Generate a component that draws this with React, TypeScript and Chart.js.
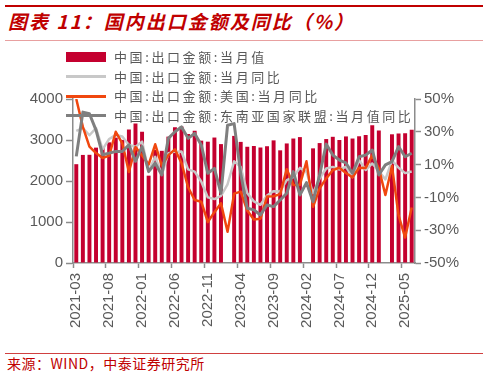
import React, { useEffect, useRef } from 'react';
import { Chart, registerables } from 'chart.js';
Chart.register(...registerables);

const months = [
  '2021-03','2021-04','2021-05','2021-06','2021-07','2021-08','2021-09','2021-10','2021-11','2021-12',
  '2022-01','2022-02','2022-03','2022-04','2022-05','2022-06','2022-07','2022-08','2022-09','2022-10','2022-11','2022-12',
  '2023-01','2023-02','2023-03','2023-04','2023-05','2023-06','2023-07','2023-08','2023-09','2023-10','2023-11','2023-12',
  '2024-01','2024-02','2024-03','2024-04','2024-05','2024-06','2024-07','2024-08','2024-09','2024-10','2024-11','2024-12',
  '2025-01','2025-02','2025-03','2025-04','2025-05','2025-06'
];

// 中国:出口金额:当月值 (亿美元)
const exportValue: (number | null)[] = [
  2410, 2636, 2639, 2814, 2826, 2943, 3057, 3002, 3254, 3404,
  3200, 2130, 2761, 2736, 3082, 3313, 3330, 3149, 3227, 2984, 2959, 3060,
  2900, null, 3100, 2954, 2835, 2853, 2817, 2848, 2991, 2748, 2916, 3036,
  3071, null, 2796, 2925, 3023, 3078, 3000, 3087, 3036, 3091, 3123, 3357,
  3230, null, 3139, 3156, 3162, 3250
];

// 中国:出口金额:当月同比 (%)
const totalYoY = [
  30.6, 32.3, 27.9, 32.2, 19.3, 25.6, 28.1, 27.1, 22.0, 20.9,
  24.0, 6.0, 14.7, 3.9, 16.9, 17.9, 18.0, 7.1, 5.7, -0.3, -10.0, -11.0,
  -9.0, -2.0, 12.0, 8.5, -7.5, -12.4, -14.5, -8.8, -6.2, -6.4, 0.5, 2.3,
  8.0, 5.6, -7.5, 1.5, 7.6, 8.6, 7.0, 8.7, 2.4, 12.7, 6.7, 10.7,
  6.0, 1.0, 12.4, 8.1, 4.8, 5.8
];

// 中国:出口金额:美国:当月同比 (%)
const usYoY = [
  50, 33, 21, 17, 14, 15.5, 30, 23, 5.5, 20.7,
  15.6, 10, 22.4, 9.4, 15.8, 19.3, 11, -3.8, -11.6, -12.6, -25, -19,
  -13.6, -31, -7.7, -6.5, -18, -23.5, -23, -9.5, -9.3, -8, 7.2, -2.4,
  -2.4, 12, -15.7, -4.5, 1.6, 6.6, 8.1, 4.9, 2.2, 8.1, 8.0, 15.6,
  7.7, -8.5, 9.1, -21, -34.5, -16.1
];

// 中国:出口金额:东南亚国家联盟:当月值同比 (%)
const aseanYoY = [
  15, 42, 41, 31, 16, 17, 18, 18, 22, 12,
  21, 5.7, 10.8, 3.7, 26, 30, 33, 26, 29, 22, 4.7, 7.7,
  -7.5, 34, 35, 4.5, -16.6, -17.6, -20.7, -14.6, -15.6, -11.6, -7.5, 5.7,
  -8.5, -1, -12.6, 3.7, 22.5, 15.8, 12.8, 11, 4.7, 14.8, 15.8, 18.9,
  3.7, 9.8, 11.8, 21, 14.8, 16.9
];

const seriesNames = [
  '中国:出口金额:当月值',
  '中国:出口金额:当月同比',
  '中国:出口金额:美国:当月同比',
  '中国:出口金额:东南亚国家联盟:当月值同比'
];

const BAR = '#c4002f';
const LIGHT = '#c8c8c8';
const ORANGE = '#f0470f';
const DARK = '#7f7f7f';
const AXIS = '#8c8c8c';
const TICK = '#595959';
const RED = '#c00000';
const tickFont = { family: '"Liberation Sans", Arial, sans-serif', size: 15 };

export default function App() {
  const ref = useRef<HTMLCanvasElement>(null);
  useEffect(() => {
    const chart = new Chart(ref.current as HTMLCanvasElement, {
      type: 'bar',
      data: {
        labels: months,
        datasets: [
          { type: 'bar', label: seriesNames[0], data: exportValue, backgroundColor: BAR, yAxisID: 'y', order: 4, barPercentage: 0.6, categoryPercentage: 1 } as any,
          { type: 'line', label: seriesNames[1], data: totalYoY, borderColor: LIGHT, borderWidth: 2.5, pointRadius: 0, yAxisID: 'y1', order: 3, tension: 0, borderJoinStyle: 'round' } as any,
          { type: 'line', label: seriesNames[2], data: usYoY, borderColor: ORANGE, borderWidth: 2.5, pointRadius: 0, yAxisID: 'y1', order: 2, tension: 0, borderJoinStyle: 'round' } as any,
          { type: 'line', label: seriesNames[3], data: aseanYoY, borderColor: DARK, borderWidth: 3, pointRadius: 0, yAxisID: 'y1', order: 1, tension: 0, borderJoinStyle: 'round' } as any,
        ]
      },
      options: {
        responsive: true,
        maintainAspectRatio: false,
        animation: false,
        layout: { padding: { top: 54, left: 0, right: 0, bottom: 0 } },
        plugins: { legend: { display: false }, tooltip: { enabled: false }, title: { display: false } },
        scales: {
          x: {
            offset: true,
            grid: {
              offset: true,
              drawOnChartArea: false,
              tickLength: 5,
              tickWidth: 1.5,
              tickColor: (ctx: any) => (ctx.index % 5 === 0 ? AXIS : 'rgba(0,0,0,0)'),
            },
            border: { color: AXIS, width: 1.5 },
            ticks: {
              autoSkip: false,
              minRotation: 90,
              maxRotation: 90,
              padding: 5,
              color: TICK,
              font: tickFont,
              callback: (_v: any, i: number) => (i % 5 === 0 ? months[i] : ''),
            },
            afterFit: (s: any) => { s.height = 82; },
          } as any,
          y: {
            position: 'left',
            min: 0,
            max: 4000,
            ticks: { stepSize: 1000, color: TICK, font: tickFont, padding: 3, callback: (v: any) => String(v) },
            grid: { drawOnChartArea: false, tickLength: 7, tickColor: AXIS, tickWidth: 1.5 },
            border: { color: AXIS, width: 1.5 },
            afterFit: (s: any) => { s.width = 73; },
          } as any,
          y1: {
            position: 'right',
            min: -50,
            max: 50,
            ticks: { stepSize: 20, color: TICK, font: tickFont, padding: 3, callback: (v: any) => v + '%' },
            grid: { drawOnChartArea: false, tickLength: 6, tickColor: AXIS, tickWidth: 1.5 },
            border: { color: AXIS, width: 1.5 },
            afterFit: (s: any) => { s.width = 73; },
          } as any,
        }
      }
    });
    return () => chart.destroy();
  }, []);

  const legendFont = '"Noto Sans CJK SC", "Noto Sans", sans-serif';
  const swatches = [
    <div style={{ width: 40, height: 10, background: BAR }} />,
    <div style={{ width: 40, height: 3, background: LIGHT }} />,
    <div style={{ width: 40, height: 3, background: ORANGE }} />,
    <div style={{ width: 40, height: 3, background: DARK }} />,
  ];

  return (
    <div style={{ position: 'absolute', left: 0, top: 0, width: 488, height: 376, background: '#fff', overflow: 'hidden' }}>
      <div style={{ position: 'absolute', left: 5, top: 4.5, width: 478, height: 2.5, background: RED }} />
      <div style={{ position: 'absolute', left: 8, top: 10, whiteSpace: 'nowrap', fontFamily: legendFont, fontSize: 19, fontWeight: 'bold', fontStyle: 'italic', color: RED, letterSpacing: '2px', lineHeight: '22px' }}>
        图表 11：国内出口金额及同比（%）
      </div>
      <div style={{ position: 'absolute', left: 5, top: 39.5, width: 478, height: 1.5, background: '#e8a0a0' }} />
      <div style={{ position: 'absolute', left: 0, top: 45, width: 488, height: 300 }}>
        <canvas ref={ref} />
      </div>
      <div style={{ position: 'absolute', left: 66, top: 47 }}>
        {seriesNames.map((n, i) => (
          <div key={i} style={{ display: 'flex', alignItems: 'center', height: 19.7 }}>
            <div style={{ width: 48, display: 'flex', alignItems: 'center' }}>{swatches[i]}</div>
            <span style={{ fontFamily: legendFont, fontSize: 13, color: TICK, letterSpacing: '2.6px', whiteSpace: 'nowrap', lineHeight: '19.7px' }}>{n}</span>
          </div>
        ))}
      </div>
      <div style={{ position: 'absolute', left: 5, top: 353, width: 478, height: 1, background: '#d04040' }} />
      <div style={{ position: 'absolute', left: 7, top: 355, whiteSpace: 'nowrap', fontFamily: legendFont, fontSize: 14, color: RED, letterSpacing: '0.5px', lineHeight: '16px' }}>
        来源：WIND，中泰证券研究所
      </div>
    </div>
  );
}
